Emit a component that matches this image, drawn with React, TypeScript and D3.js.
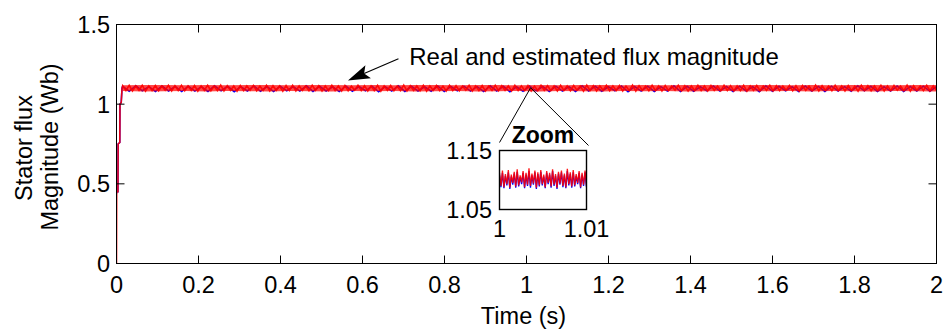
import * as d3 from 'd3'

// axis ticks
const xTicks = [0, 0.2, 0.4, 0.6, 0.8, 1, 1.2, 1.4, 1.6, 1.8, 2]
const yTicks = [0, 0.5, 1, 1.5]
const zoomYTicks = [1.05, 1.15]
const zoomXTicks = [1, 1.01]

// start-up transient (time in s, flux in Wb)
const startTime = [0, 0.0005, 0.0035, 0.004, 0.008, 0.0085, 0.0115, 0.0135]
const startReal = [0, 0.45, 0.45, 0.75, 0.76, 1.0, 1.01, 1.1]
const startEst = [0.44, 0.45, 0.45, 0.75, 0.76, 1.0, 1.01, 1.1]
const rippleStart = 0.015

// steady-state ripple, real flux (sampled evenly from 0.015 s to 2 s)
const realRipple = [
  1.116, 1.085, 1.118, 1.083, 1.114, 1.087, 1.119, 1.082, 1.115, 1.086,
  1.117, 1.084, 1.113, 1.088, 1.118, 1.083, 1.116, 1.085, 1.119, 1.084,
  1.114, 1.086, 1.117, 1.082, 1.115, 1.087, 1.118, 1.084, 1.113, 1.085,
  1.119, 1.083, 1.116, 1.086, 1.114, 1.082, 1.117, 1.085, 1.115, 1.088,
  1.118, 1.084, 1.113, 1.086, 1.119, 1.083, 1.116, 1.087, 1.114, 1.082,
  1.117, 1.085, 1.118, 1.083, 1.115, 1.086, 1.113, 1.084, 1.119, 1.087,
  1.116, 1.082, 1.114, 1.085, 1.118, 1.086, 1.115, 1.083, 1.117, 1.084,
  1.113, 1.088, 1.119, 1.085, 1.116, 1.083, 1.114, 1.086, 1.118, 1.082,
  1.115, 1.087, 1.117, 1.084, 1.113, 1.085, 1.119, 1.083, 1.116, 1.086,
  1.114, 1.084, 1.118, 1.082, 1.115, 1.087, 1.117, 1.085, 1.113, 1.083,
  1.119, 1.086, 1.116, 1.084, 1.114, 1.088, 1.118, 1.083, 1.115, 1.085,
  1.117, 1.082, 1.113, 1.086, 1.119, 1.084, 1.116, 1.087, 1.114, 1.083,
  1.118, 1.085, 1.115, 1.086, 1.117, 1.082, 1.113, 1.084, 1.119, 1.087,
  1.116, 1.085, 1.114, 1.083, 1.118, 1.086, 1.115, 1.084, 1.117, 1.088,
  1.113, 1.082, 1.119, 1.085, 1.116, 1.083, 1.114, 1.087, 1.118, 1.084,
  1.115, 1.086, 1.117, 1.083, 1.113, 1.085, 1.119, 1.082, 1.116, 1.087,
  1.114, 1.084, 1.118, 1.086, 1.115, 1.083, 1.117, 1.085, 1.113, 1.088,
  1.119, 1.084, 1.116, 1.082, 1.114, 1.086, 1.118, 1.085, 1.115, 1.083,
  1.117, 1.087, 1.113, 1.084, 1.119, 1.086, 1.116, 1.083, 1.114, 1.085,
  1.118, 1.082, 1.115, 1.087, 1.117, 1.084, 1.113, 1.086, 1.119, 1.083,
  1.116, 1.085, 1.114, 1.088, 1.118, 1.084, 1.115, 1.082, 1.117, 1.086,
  1.113, 1.085, 1.119, 1.083, 1.116, 1.087, 1.114, 1.084, 1.118, 1.086,
  1.115, 1.083, 1.117, 1.085, 1.113, 1.082, 1.119, 1.087, 1.116, 1.084,
  1.114, 1.086, 1.118, 1.083, 1.115, 1.085, 1.117, 1.088, 1.113, 1.084,
  1.119, 1.082, 1.116, 1.086, 1.114, 1.085, 1.118, 1.083, 1.115, 1.087,
]

// envelope of the real-flux ripple as it appears at full scale
const realUpper = [
  1.119, 1.121, 1.120, 1.118, 1.121, 1.119, 1.120, 1.121, 1.118, 1.120,
  1.121, 1.119, 1.120, 1.118, 1.121, 1.120, 1.119, 1.121, 1.120, 1.118,
  1.121, 1.119, 1.120, 1.121, 1.119, 1.120, 1.118, 1.121, 1.120, 1.119,
  1.121, 1.120, 1.118, 1.121, 1.119, 1.120, 1.121, 1.119, 1.120, 1.121,
]
const realLower = [
  1.082, 1.080, 1.081, 1.083, 1.080, 1.082, 1.081, 1.080, 1.083, 1.081,
  1.080, 1.082, 1.081, 1.083, 1.080, 1.081, 1.082, 1.080, 1.081, 1.083,
  1.080, 1.082, 1.081, 1.080, 1.082, 1.081, 1.083, 1.080, 1.081, 1.082,
  1.080, 1.081, 1.083, 1.080, 1.082, 1.081, 1.080, 1.082, 1.081, 1.080,
]

// steady-state ripple, estimated flux (coarser sampling)
const estRipple = [
  1.112, 1.081, 1.115, 1.084, 1.110, 1.080, 1.114, 1.083, 1.111, 1.079,
  1.113, 1.082, 1.109, 1.080, 1.115, 1.084, 1.112, 1.078, 1.110, 1.083,
  1.114, 1.081, 1.111, 1.079, 1.113, 1.084, 1.110, 1.082, 1.115, 1.080,
  1.112, 1.083, 1.109, 1.079, 1.114, 1.081, 1.111, 1.084, 1.113, 1.078,
  1.110, 1.082, 1.115, 1.080, 1.112, 1.083, 1.109, 1.081, 1.114, 1.079,
  1.111, 1.084, 1.113, 1.082, 1.110, 1.080, 1.115, 1.083, 1.112, 1.078,
  1.109, 1.081, 1.114, 1.084, 1.111, 1.079, 1.113, 1.082, 1.110, 1.080,
  1.115, 1.083, 1.112, 1.081, 1.109, 1.084, 1.114, 1.078, 1.111, 1.082,
  1.113, 1.080, 1.110, 1.083, 1.115, 1.079, 1.112, 1.081, 1.109, 1.084,
  1.114, 1.082, 1.111, 1.080, 1.113, 1.083, 1.110, 1.078, 1.115, 1.081,
  1.112, 1.084, 1.109, 1.079, 1.114, 1.082, 1.111, 1.080, 1.113, 1.083,
  1.110, 1.081, 1.115, 1.084, 1.112, 1.079, 1.109, 1.082, 1.114, 1.080,
  1.111, 1.083, 1.113, 1.081, 1.110,
]

// zoomed window 1.000 s .. 1.010 s
const zoomStart = 1.0
const zoomEnd = 1.01
const zoomReal = [
  1.112, 1.090, 1.116, 1.088, 1.110, 1.093, 1.117, 1.087, 1.109, 1.095,
  1.114, 1.089, 1.118, 1.091, 1.108, 1.096, 1.115, 1.088, 1.112, 1.092,
  1.120, 1.090, 1.111, 1.094, 1.116, 1.087, 1.113, 1.091, 1.117, 1.093,
  1.109, 1.088, 1.115, 1.095, 1.112, 1.089, 1.118, 1.092, 1.110, 1.087,
  1.114, 1.094, 1.116, 1.090, 1.111, 1.088, 1.119, 1.093, 1.113, 1.089,
  1.117, 1.091, 1.110, 1.095, 1.115, 1.088, 1.112, 1.092, 1.116, 1.090,
]
const zoomEst = [
  1.108, 1.088, 1.112, 1.086, 1.107, 1.091, 1.113, 1.085, 1.106, 1.092,
  1.111, 1.087, 1.114, 1.089, 1.105, 1.093, 1.112, 1.086, 1.109, 1.090,
  1.115, 1.087, 1.108, 1.092, 1.113, 1.085, 1.110, 1.089, 1.114, 1.091,
  1.106, 1.086, 1.112, 1.093, 1.109, 1.087, 1.115, 1.090, 1.107, 1.085,
  1.111, 1.092, 1.113, 1.088, 1.108, 1.086, 1.115, 1.091, 1.110, 1.087,
  1.113, 1.089, 1.107, 1.093, 1.112, 1.086, 1.109, 1.090, 1.113, 1.088,
]

// annotation (data units of the main axes)
const arrowTip = [0.5645, 1.149]
const arrowTail = [0.6877, 1.285]
const noteAt = [0.714, 1.243]
const zoomApex = [1.01, 1.103]

const W = 948
const H = 333
const FONT = '"Liberation Sans", Arial, Helvetica, sans-serif'
const RED = '#ff0000'
const BLUE = '#0000ff'

type Pt = [number, number]

function series(startVals: number[], ripple: number[]): Pt[] {
  const step = (2 - rippleStart) / (ripple.length - 1)
  const head: Pt[] = startTime.map((t, i) => [t, startVals[i]])
  const tail: Pt[] = ripple.map((v, i) => [rippleStart + i * step, v])
  return head.concat(tail)
}

function zoomSeries(vals: number[]): Pt[] {
  const step = (zoomEnd - zoomStart) / (vals.length - 1)
  return vals.map((v, i) => [zoomStart + i * step, v])
}

export default function App() {
  const x = d3.scaleLinear().domain([0, 2]).range([116.5, 936.5])
  const y = d3.scaleLinear().domain([0, 1.5]).range([263.5, 24.5])

  const xi = d3.scaleLinear().domain([zoomStart, zoomEnd]).range([499.5, 586.5])
  const yi = d3.scaleLinear().domain([1.05, 1.15]).range([209.5, 150.5])

  const line = d3.line<Pt>().x(d => x(d[0])).y(d => y(d[1]))
  const lineZ = d3.line<Pt>().x(d => xi(d[0])).y(d => yi(d[1]))

  const realPath = line(series(startReal, realRipple)) ?? ''
  const estPath = line(series(startEst, estRipple)) ?? ''
  const zRealPath = lineZ(zoomSeries(zoomReal)) ?? ''
  const zEstPath = lineZ(zoomSeries(zoomEst)) ?? ''

  const envStep = (2 - rippleStart) / (realUpper.length - 1)
  const envelope = d3.area<number>()
    .x((_, i) => x(rippleStart + i * envStep))
    .y0((_, i) => y(realLower[i]))
    .y1(d => y(d))
  const envPath = envelope(realUpper) ?? ''

  const [x0, x1] = x.range()
  const [y0, y1] = y.range()
  const tick = 8

  // arrow geometry
  const tip = [x(arrowTip[0]), y(arrowTip[1])]
  const tail = [x(arrowTail[0]), y(arrowTail[1])]
  const dx = tail[0] - tip[0]
  const dy = tail[1] - tip[1]
  const len = Math.hypot(dx, dy)
  const ux = dx / len
  const uy = dy / len
  const nx = -uy
  const ny = ux
  const L = 22
  const hw = 7
  const head = [
    [tip[0], tip[1]],
    [tip[0] + ux * L + nx * hw, tip[1] + uy * L + ny * hw],
    [tip[0] + ux * L * 0.8, tip[1] + uy * L * 0.8],
    [tip[0] + ux * L - nx * hw, tip[1] + uy * L - ny * hw],
  ].map(p => p.join(',')).join(' ')

  const apex = [x(zoomApex[0]), y(zoomApex[1])]
  const [zx0, zx1] = xi.range()
  const [zy0, zy1] = yi.range()

  return (
    <svg width={W} height={H} style={{ position: 'absolute', left: 0, top: 0, background: '#fff' }}
      fontFamily={FONT}>
      <defs>
        <clipPath id="plotClip">
          <rect x={x0} y={y1} width={x1 - x0} height={y0 - y1} />
        </clipPath>
        <clipPath id="zoomClip">
          <rect x={zx0} y={zy1} width={zx1 - zx0} height={zy0 - zy1} />
        </clipPath>
      </defs>

      {/* data */}
      <g clipPath="url(#plotClip)">
        <path d={estPath} fill="none" stroke={BLUE} strokeWidth={1.6} />
        <path d={envPath} fill={RED} fillOpacity={0.72} stroke="none" />
        <path d={realPath} fill="none" stroke={RED} strokeWidth={1.6} strokeOpacity={0.9} />
      </g>

      {/* frame */}
      <rect x={x0} y={y1} width={x1 - x0} height={y0 - y1} fill="none" stroke="#000" strokeWidth={1} />
      {xTicks.map(t => (
        <g key={'xt' + t}>
          <line x1={x(t)} x2={x(t)} y1={y0} y2={y0 - tick} stroke="#000" />
          <line x1={x(t)} x2={x(t)} y1={y1} y2={y1 + tick} stroke="#000" />
          <text x={x(t)} y={293} textAnchor="middle" fontSize={23.5}>{String(t)}</text>
        </g>
      ))}
      {yTicks.map(t => (
        <g key={'yt' + t}>
          <line x1={x0} x2={x0 + tick} y1={y(t)} y2={y(t)} stroke="#000" />
          <line x1={x1} x2={x1 - tick} y1={y(t)} y2={y(t)} stroke="#000" />
          <text x={110} y={y(t)} dy="0.36em" textAnchor="end" fontSize={23.5}>{String(t)}</text>
        </g>
      ))}

      {/* axis labels */}
      <text x={(x0 + x1) / 2 - 3} y={324} textAnchor="middle" fontSize={23.5}>Time (s)</text>
      <g transform="rotate(-90)">
        <text x={-148} y={32} textAnchor="middle" fontSize={23.5}>Stator flux</text>
        <text x={-147} y={58} textAnchor="middle" fontSize={23.5}>Magnitude (Wb)</text>
      </g>

      {/* annotation */}
      <line x1={tail[0]} y1={tail[1]} x2={tip[0] + ux * L * 0.8} y2={tip[1] + uy * L * 0.8} stroke="#000" strokeWidth={1.2} />
      <polygon points={head} fill="#000" />
      <text x={x(noteAt[0])} y={y(noteAt[1])} fontSize={24}>Real and estimated flux magnitude</text>

      {/* zoom callout */}
      <line x1={apex[0]} y1={apex[1]} x2={zx0} y2={zy1 - 8} stroke="#000" strokeWidth={1} />
      <line x1={apex[0]} y1={apex[1]} x2={zx1 + 2} y2={zy1 - 5} stroke="#000" strokeWidth={1} />
      <text x={(zx0 + zx1) / 2} y={143} textAnchor="middle" fontSize={23} fontWeight="bold">Zoom</text>

      <rect x={zx0} y={zy1} width={zx1 - zx0} height={zy0 - zy1} fill="#fff" />
      <g clipPath="url(#zoomClip)">
        <path d={zEstPath} fill="none" stroke={BLUE} strokeWidth={1.3} />
        <path d={zRealPath} fill="none" stroke={RED} strokeWidth={1.3} strokeOpacity={0.9} />
      </g>
      <rect x={zx0} y={zy1} width={zx1 - zx0} height={zy0 - zy1} fill="none" stroke="#000" strokeWidth={1.4} />
      {zoomYTicks.map(t => (
        <text key={'zy' + t} x={492} y={yi(t)} dy="0.36em" textAnchor="end" fontSize={23.5}>{String(t)}</text>
      ))}
      {zoomXTicks.map(t => (
        <text key={'zx' + t} x={xi(t)} y={237} textAnchor="middle" fontSize={23.5}>{String(t)}</text>
      ))}
    </svg>
  )
}
